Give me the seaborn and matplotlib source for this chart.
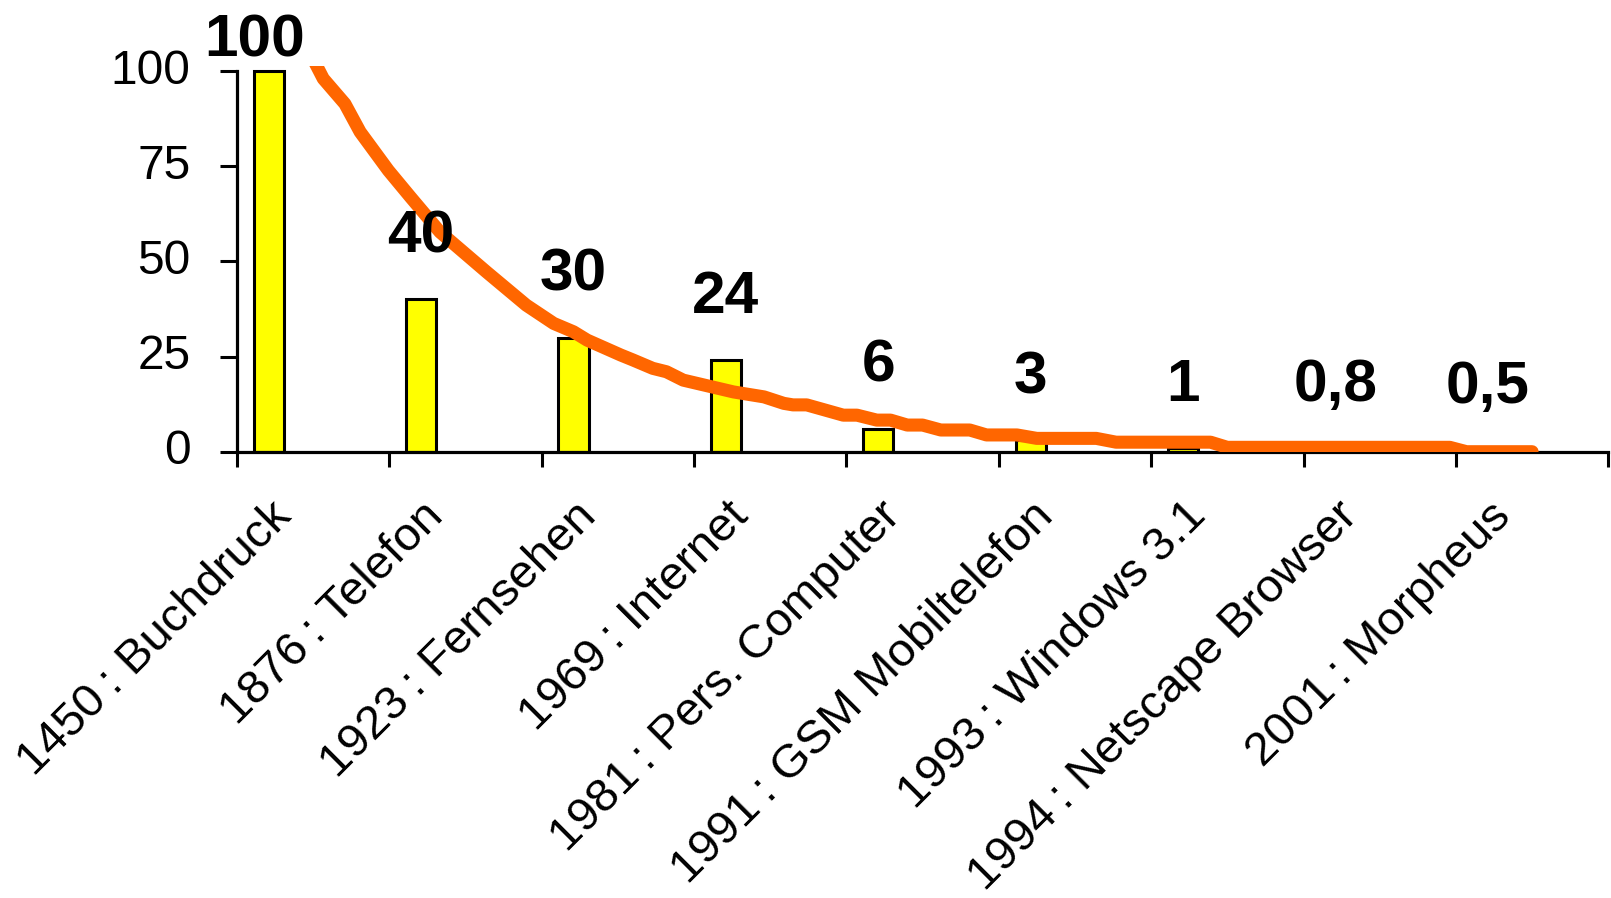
import numpy as np
import pandas as pd
import matplotlib
matplotlib.use("Agg")
import matplotlib.pyplot as plt
import matplotlib.transforms as mtransforms
import seaborn as sns

# ---- data ----
categories = [
    "1450\u2009: Buchdruck",
    "1876\u2009: Telefon",
    "1923\u2009: Fernsehen",
    "1969\u2009: Internet",
    "1981\u2009: Pers. Computer",
    "1991\u2009: GSM Mobiltelefon",
    "1993\u2009: Windows 3.1",
    "1994\u2009: Netscape Browser",
    "2001\u2009: Morpheus",
]
values = [100, 40, 30, 24, 6, 3, 1, 0.8, 0.5]
value_labels = ["100", "40", "30", "24", "6", "3", "1", "0,8", "0,5"]
y_ticks = [0, 25, 50, 75, 100]

# orange curve (x in category units, y in value units)
line_x = [0.01, 0.068, 0.21, 0.31, 0.495, 0.64, 0.834, 1.14, 1.40, 1.58, 1.71,
          1.80, 2.02, 2.10, 2.23, 2.32, 2.43, 2.76, 2.96, 3.09, 3.15, 3.24,
          3.48, 3.57, 3.70, 3.79, 3.90, 4.00, 4.12, 4.31, 4.42, 4.62, 4.75,
          5.14, 5.27, 5.89, 6.00, 7.46, 7.57, 8.00]
line_y = [102.5, 98.0, 91.4, 84.0, 73.9, 66.9, 57.7, 47.2, 38.5, 33.7, 31.5,
          29.3, 25.4, 24.1, 21.9, 21.0, 18.8, 15.7, 14.4, 12.7, 12.3, 12.3,
          9.6, 9.6, 8.3, 8.3, 7.0, 7.0, 5.7, 5.7, 4.4, 4.4, 3.5,
          3.5, 2.5, 2.5, 1.15, 1.15, 0.0, 0.0]

# ---- style ----
sns.set_style("ticks")
plt.rcParams["font.family"] = ["Liberation Sans", "DejaVu Sans"]

DPI = 100
fig = plt.figure(figsize=(16.11, 8.98), dpi=DPI)
fig.patch.set_facecolor("white")
ax = fig.add_axes([0.14693, 0.49699, 0.85140, 0.42940])
ax.set_facecolor("white")

df = pd.DataFrame({"cat": categories, "val": values})
sns.barplot(data=df, x="cat", y="val", order=categories, color="#FFFF00",
            saturation=1, edgecolor="black", linewidth=2.2, width=0.197,
            errorbar=None, ax=ax, zorder=2)
BAR_SHIFT = -0.29
for p in ax.patches:
    p.set_x(p.get_x() + BAR_SHIFT)

sns.lineplot(x=line_x, y=line_y, color="#FF6600", linewidth=9.4, sort=False,
             estimator=None, ax=ax, zorder=5, solid_capstyle="round",
             solid_joinstyle="round")

# data labels
for i, (v, lab) in enumerate(zip(values, value_labels)):
    y = v + 12.4
    x = i + BAR_SHIFT
    if y > 103.7:
        y = 103.7
        x -= 0.093
    ax.text(x, y, lab, ha="center", va="baseline", fontsize=43.5,
            fontweight="bold", color="black", zorder=6)

ax.set_xlim(-0.5, 8.5)
ax.set_ylim(0, 101.3)
ax.set_xlabel("")
ax.set_ylabel("")

for s in ["top", "right"]:
    ax.spines[s].set_visible(False)
ax.spines["left"].set_bounds(0, 100)
for s in ["left", "bottom"]:
    ax.spines[s].set_linewidth(2.3)
    ax.spines[s].set_color("black")

ax.set_yticks(y_ticks)
ax.set_yticklabels([str(t) for t in y_ticks])
ax.tick_params(axis="y", which="major", length=12.2, width=2.2, pad=20.9,
               labelsize=34.5, direction="out", colors="black")

ax.set_xticks(range(len(categories)))
ax.set_xticklabels(categories, rotation=45, ha="right", va="top",
                   rotation_mode="anchor")
ax.set_xticks(np.arange(-0.5, len(categories), 1.0), minor=True)
ax.tick_params(axis="x", which="major", length=0, pad=0, labelsize=34.2,
               colors="black")
ax.tick_params(axis="x", which="minor", length=10.8, width=2.2,
               direction="out", color="black")

xoff = mtransforms.ScaledTranslation(-44 / DPI, -42 / DPI, fig.dpi_scale_trans)
for lab in ax.get_xticklabels():
    lab.set_transform(lab.get_transform() + xoff)
yoff = mtransforms.ScaledTranslation(0, 5 / DPI, fig.dpi_scale_trans)
for lab in ax.get_yticklabels():
    lab.set_transform(lab.get_transform() + yoff)

fig.savefig("out.png", dpi=DPI, facecolor="white")
